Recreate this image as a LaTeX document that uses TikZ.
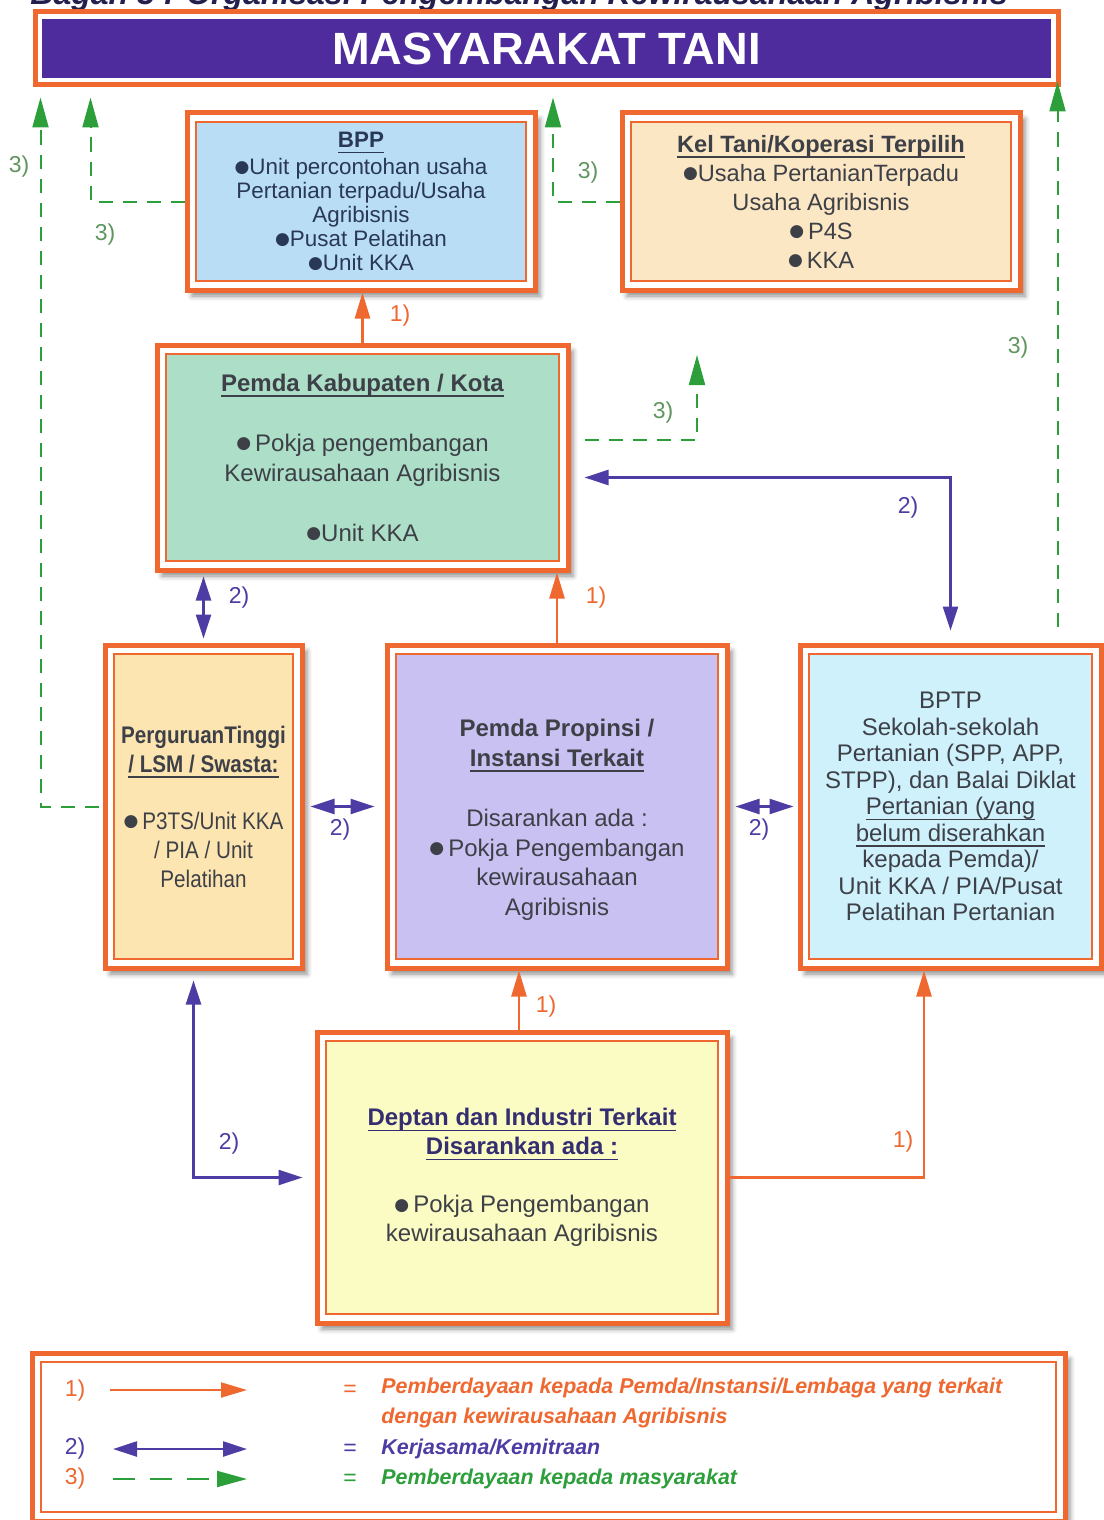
\documentclass[tikz,border=0pt]{standalone}
\usepackage{fontspec}
\setmainfont{Liberation Sans}
\newfontfamily\narrowfont[FakeStretch=0.86]{Liberation Sans}
\newfontfamily\dotfont{DejaVu Sans}
\usepackage{xcolor}
\usepackage{tikz}
\usetikzlibrary{arrows.meta}
\usetikzlibrary{shadows.blur}

\definecolor{orgline}{RGB}{238,104,48}
\definecolor{titleblue}{RGB}{78,44,158}
\definecolor{linkblue}{RGB}{78,60,165}
\definecolor{pbdgreen}{RGB}{44,158,58}
\definecolor{labgreen}{RGB}{96,150,96}
\definecolor{txtgray}{RGB}{62,64,72}
\definecolor{bpptext}{RGB}{40,56,86}
\definecolor{headnavy}{RGB}{52,46,112}
\definecolor{fillbpp}{RGB}{186,221,246}
\definecolor{fillkel}{RGB}{251,231,196}
\definecolor{fillkab}{RGB}{172,222,200}
\definecolor{fillperg}{RGB}{252,229,176}
\definecolor{fillprop}{RGB}{201,193,241}
\definecolor{fillbptp}{RGB}{207,241,251}
\definecolor{filldep}{RGB}{251,251,196}

\newcommand{\bul}{\raisebox{1.2pt}{\dotfont\fontsize{8.5}{8.5}\selectfont ●}}
\newcommand{\undl}[1]{\leavevmode\setbox0=\hbox{#1}\rlap{\rule[-2.8pt]{\wd0}{0.8pt}}\box0}

\tikzset{
  orgbox/.style={draw=orgline, line width=2.5pt, fill=white, align=center, text=txtgray, inner sep=0pt,
    blur shadow={shadow xshift=2.5pt, shadow yshift=-3pt, shadow blur radius=2.5pt, shadow opacity=45},
    path picture={\draw [orgline, line width=0.6pt, fill=#1]
      ([shift={(4.5pt,-4.5pt)}]path picture bounding box.north west) rectangle
      ([shift={(-4.5pt,4.5pt)}]path picture bounding box.south east);}},
  titlebar/.style={draw=orgline, line width=2.5pt, fill=white, text=white, inner sep=0pt,
    path picture={\fill [titleblue]
      ([shift={(3.5pt,-3.5pt)}]path picture bounding box.north west) rectangle
      ([shift={(-3.5pt,3.5pt)}]path picture bounding box.south east);}},
  empower/.style={draw=orgline, line width=1.2pt, -{Triangle[length=13pt,width=7.5pt]}},
  partner/.style={draw=linkblue, line width=1.2pt, {Triangle[length=12pt,width=7.5pt]}-{Triangle[length=12pt,width=7.5pt]}},
  society/.style={draw=pbdgreen, line width=1pt, dash pattern=on 7pt off 5pt, shorten >=5pt, -{Triangle[length=15pt,width=8pt]}},
  lbl/.style={font=\fontsize{11.5}{12}\selectfont, inner sep=1pt},
  legtext/.style={anchor=west, inner sep=0pt, font=\bfseries\itshape\fontsize{10.7}{12}\selectfont},
}

\begin{document}
\begin{tikzpicture}[x=0.5pt, y=-0.5pt]

\useasboundingbox (0,0) rectangle (1103,1520);

% Heading and top bar
\node [anchor=base west, inner sep=0pt, text=headnavy!70!black, font=\bfseries\itshape\fontsize{16}{16}\selectfont] (bagan) at (30,5) {Bagan 3 : Organisasi Pengembangan Kewirausahaan Agribisnis};
\node [titlebar, minimum width=511.5pt, minimum height=36.5pt, font=\bfseries\fontsize{22.6}{24}\selectfont] (title) at (546.5,48.5) {MASYARAKAT TANI};

% Boxes
\node [orgbox=fillbpp, text=bpptext, minimum width=174pt, minimum height=88.5pt, font=\fontsize{11.2}{12}\selectfont] (bpp) at (361,201.5)
  {\textbf{\undl{BPP}}\\[1.5pt] \bul Unit percontohan usaha\\ Pertanian terpadu/Usaha\\ Agribisnis\\ \bul Pusat Pelatihan\\ \bul Unit KKA};
\node [orgbox=fillkel, minimum width=199pt, minimum height=88.5pt, font=\fontsize{11.8}{14.5}\selectfont] (kel) at (821,201.5)
  {\textbf{\undl{Kel Tani/Koperasi Terpilih}}\\ \bul Usaha PertanianTerpadu\\ Usaha Agribisnis\\ \bul\,P4S\\ \bul\,KKA};
\node [orgbox=fillkab, minimum width=205.5pt, minimum height=112.5pt, font=\fontsize{12}{15}\selectfont] (kab) at (362.5,457.5)
  {\textbf{\undl{Pemda Kabupaten / Kota}}\\[15pt] \bul\,Pokja pengembangan\\ Kewirausahaan Agribisnis\\[15pt] \bul Unit KKA};
\node [orgbox=fillperg, minimum width=98.5pt, minimum height=161.5pt, font=\narrowfont\fontsize{12}{14.5}\selectfont] (perg) at (203.5,806.5)
  {\textbf{PerguruanTinggi}\\ \textbf{\undl{/ LSM / Swasta:}}\\[14pt] \bul\,P3TS/Unit KKA\\ / PIA / Unit\\ Pelatihan};
\node [orgbox=fillprop, minimum width=170pt, minimum height=161.5pt, font=\fontsize{12}{14.75}\selectfont] (prop) at (557,806.5)
  {\rule{0pt}{22pt}\textbf{Pemda Propinsi /}\\ \textbf{\undl{Instansi Terkait}}\\[15.5pt] Disarankan ada :\\ \bul\,Pokja Pengembangan\\ kewirausahaan\\ Agribisnis};
\node [orgbox=fillbptp, minimum width=150.5pt, minimum height=161.5pt, font=\fontsize{12}{13.25}\selectfont] (bptp) at (950.5,806.5)
  {BPTP\\ Sekolah-sekolah\\ Pertanian (SPP, APP,\\ STPP), dan Balai Diklat\\ \undl{Pertanian (yang}\\ \undl{belum diserahkan}\\ kepada Pemda)/\\ Unit KKA / PIA/Pusat\\ Pelatihan Pertanian};
\node [orgbox=filldep, minimum width=205pt, minimum height=145.5pt, font=\fontsize{12}{14.5}\selectfont] (dep) at (522,1177.5)
  {\textcolor{headnavy}{\textbf{\undl{Deptan dan Industri Terkait}}}\\ \textcolor{headnavy}{\textbf{\undl{Disarankan ada :}}}\\[14.5pt] \bul\,Pokja Pengembangan\\ kewirausahaan Agribisnis};

% 1) empowerment of institutions
\draw [empower] (kab.north) -- (kab.north |- bpp.south);
\draw [empower] (prop.north) -- (prop.north |- kab.south);
\draw [empower] ([xshift=-1.5pt]dep.north) -- ([xshift=-1.5pt]dep.north |- prop.south);
\draw [empower] (dep.east) -| ([xshift=-13.25pt]bptp.south);
\node [lbl, text=orgline] (e1) at (400,316) {1)};
\node [lbl, text=orgline] (e2) at (596,598) {1)};
\node [lbl, text=orgline] (e3) at (546,1007) {1)};
\node [lbl, text=orgline] (e4) at (903,1142) {1)};

% 2) partnership
\draw [partner, shorten <=2pt, shorten >=2pt] (perg.north) -- (perg.north |- kab.south);
\draw [partner, shorten <=3pt, shorten >=5pt] (perg.east) -- (prop.west);
\draw [partner, shorten <=3pt, shorten >=2pt] (prop.east) -- (bptp.west);
\draw [partner, shorten <=7pt, shorten >=6pt] ([yshift=-10pt]kab.east) -| (bptp.north);
\draw [partner, shorten <=5pt, shorten >=6pt] ([xshift=-5pt]perg.south) |- (dep.west);
\node [lbl, text=linkblue] (p1) at (239,598) {2)};
\node [lbl, text=linkblue] (p2) at (340,830) {2)};
\node [lbl, text=linkblue] (p3) at (759,830) {2)};
\node [lbl, text=linkblue] (p4) at (908,508) {2)};
\node [lbl, text=linkblue] (p5) at (229,1144) {2)};

% 3) empowerment of the farmers
\coordinate (kabtip) at (697,355);
\draw [society, shorten <=2pt] (perg.west) -| ([xshift=4pt]title.south west);
\draw [society] (bpp.west) -| ([xshift=29pt]title.south west);
\draw [society] (kel.west) -| ([xshift=3.25pt]title.south);
\draw [society] ([xshift=-23pt,yshift=8pt]bptp.north east) -- ([xshift=-23pt,yshift=8pt]bptp.north east |- title.south);
\draw [society, shorten >=0pt] ([xshift=7pt,yshift=9pt]kab.east) -| (kabtip);
\node [lbl, text=labgreen] (s1) at (19,167) {3)};
\node [lbl, text=labgreen] (s2) at (105,235) {3)};
\node [lbl, text=labgreen] (s3) at (588,173) {3)};
\node [lbl, text=labgreen] (s4) at (663,413) {3)};
\node [lbl, text=labgreen] (s5) at (1018,348) {3)};

% Legend
\node [orgbox=white, minimum width=516.5pt, minimum height=84pt] (legend) at (548.5,1437) {};
\coordinate (k1a) at (110,1390); \coordinate (k1b) at (247,1390);
\coordinate (k2a) at (113,1449); \coordinate (k2b) at (247,1449);
\coordinate (k3a) at (113,1479); \coordinate (k3b) at (247,1479);
\draw [empower, line width=1pt] (k1a) -- (k1b);
\draw [partner] (k2a) -- (k2b);
\draw [society, dash pattern=on 11pt off 7.5pt, shorten >=0pt] (k3a) -- (k3b);
\node [lbl, text=orgline] (m1) at (75,1391) {1)};
\node [lbl, text=linkblue] (m2) at (75,1449) {2)};
\node [lbl, text=orgline] (m3) at (75,1479) {3)};
\node [lbl, text=orgline] (q1) at (350,1391) {=};
\node [lbl, text=linkblue] (q2) at (350,1450) {=};
\node [lbl, text=pbdgreen] (q3) at (350,1480) {=};
\node [legtext, text=orgline] (t1) at (381,1388) {Pemberdayaan kepada Pemda/Instansi/Lembaga yang terkait};
\node [legtext, text=orgline] (t1b) at (381,1418) {dengan kewirausahaan Agribisnis};
\node [legtext, text=linkblue] (t2) at (381,1449) {Kerjasama/Kemitraan};
\node [legtext, text=pbdgreen] (t3) at (381,1479) {Pemberdayaan kepada masyarakat};

\end{tikzpicture}
\end{document}
